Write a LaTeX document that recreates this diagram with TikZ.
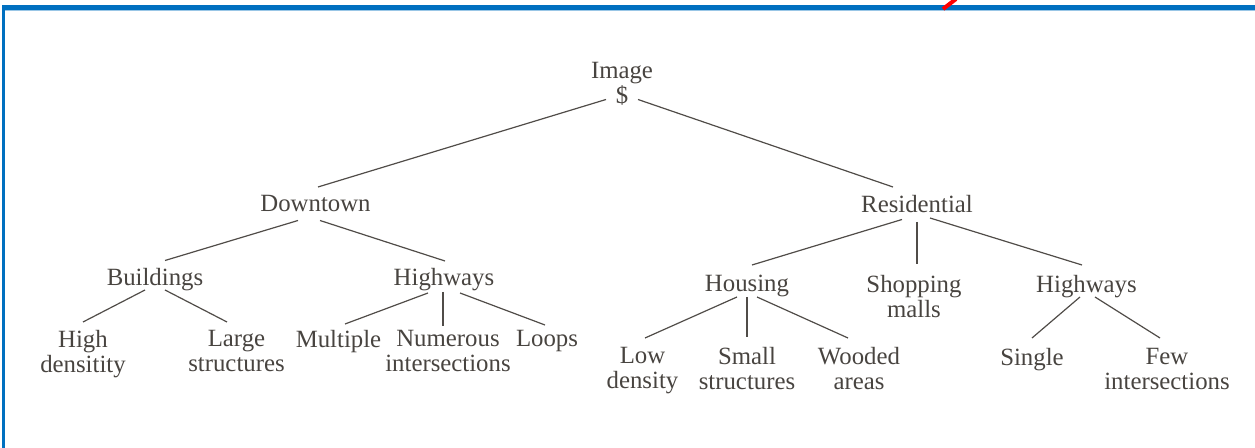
\documentclass[tikz,border=0pt]{standalone}
\usepackage{fontspec}
\setmainfont{Liberation Serif}
\definecolor{frameblue}{RGB}{0,112,192}
\definecolor{txtgray}{RGB}{72,68,64}
\definecolor{linegray}{RGB}{80,76,72}
\tikzset{
  lbl/.style={anchor=north,inner sep=0pt,outer sep=0pt,align=center,text=txtgray,
    font=\fontsize{12.4}{12.5}\selectfont},
  branch/.style={draw=linegray,line width=0.6pt}
}

\begin{document}
\begin{tikzpicture}[x=0.5pt,y=-0.5pt]
        \useasboundingbox (0,0) rectangle (1255,448);
        % frame
        \fill[frameblue] (2,5) rectangle (1255,10);
        \fill[frameblue] (2,5) rectangle (5,448);
        \draw[frameblue!40,line width=0.4pt] (5,10.5) -- (1255,10.5);
        \draw[red,line width=2pt] (943,9) -- (956,-1);
        % labels
        \node[lbl] (img) at (622,62.5) {Image\\\$};
        \node[lbl] (down) at (315.5,195.5) {Downtown};
        \node[lbl] (res) at (917,195.5) {Residential};
        \node[lbl] (bld) at (155,268.5) {Buildings};
        \node[lbl] (hwyA) at (444,268.5) {Highways};
        \node[lbl] (hd) at (83,330.5) {High\\densitity};
        \node[lbl] (ls) at (236.5,330.5) {Large\\structures};
        \node[lbl] (mult) at (338.5,330.5) {Multiple};
        \node[lbl] (num) at (448,330.5) {Numerous\\intersections};
        \node[lbl] (loops) at (547,330.5) {Loops};
        \node[lbl] (hou) at (747,275.5) {Housing};
        \node[lbl] (shop) at (914,275.5) {Shopping\\malls};
        \node[lbl] (hwyB) at (1086.5,275.5) {Highways};
        \node[lbl] (low) at (642.5,347.5) {Low\\density};
        \node[lbl] (small) at (747,347.5) {Small\\structures};
        \node[lbl] (wood) at (859,347.5) {Wooded\\areas};
        \node[lbl] (single) at (1032,348.5) {Single};
        \node[lbl] (few) at (1167,348.5) {Few\\intersections};
        % branches
        \draw[branch] ([shift={(-16,37)}]img.north) -- ([shift={(2.5,-8.5)}]down.north);
        \draw[branch] ([shift={(16,37)}]img.north) -- ([shift={(-24,-8.5)}]res.north);
        \draw[branch] ([shift={(-17.5,25)}]down.north) -- ([shift={(10,-8)}]bld.north);
        \draw[branch] ([shift={(4.5,25)}]down.north) -- ([shift={(1,-7.5)}]hwyA.north);
        \draw[branch] ([shift={(-10,21.5)}]bld.north) -- ([shift={(0,-8.5)}]hd.north);
        \draw[branch] ([shift={(10,21.5)}]bld.north) -- ([shift={(-9.5,-8.5)}]ls.north);
        \draw[branch] ([shift={(-16,24.5)}]hwyA.north) -- ([shift={(6.5,-6.5)}]mult.north);
        \draw[branch] ([shift={(-1,23.5)}]hwyA.north) -- ([shift={(-5,-4.5)}]num.north);
        \draw[branch] ([shift={(16,24.5)}]hwyA.north) -- ([shift={(-2,-5.5)}]loops.north);
        \draw[branch] ([shift={(-15,24)}]res.north) -- ([shift={(5,-10.5)}]hou.north);
        \draw[branch] ([shift={(0,26.5)}]res.north) -- ([shift={(3,-11.5)}]shop.north);
        \draw[branch] ([shift={(13,22.5)}]res.north) -- ([shift={(-4.5,-10.5)}]hwyB.north);
        \draw[branch] ([shift={(-10,21.5)}]hou.north) -- ([shift={(2.5,-9.5)}]low.north);
        \draw[branch] ([shift={(0,21.5)}]hou.north) -- ([shift={(0,-10.5)}]small.north);
        \draw[branch] ([shift={(10,21.5)}]hou.north) -- ([shift={(-11,-9.5)}]wood.north);
        \draw[branch] ([shift={(-6.5,21.5)}]hwyB.north) -- ([shift={(0,-10.5)}]single.north);
        \draw[branch] ([shift={(8.5,21.5)}]hwyB.north) -- ([shift={(-7,-10.5)}]few.north);
\end{tikzpicture}
\end{document}
